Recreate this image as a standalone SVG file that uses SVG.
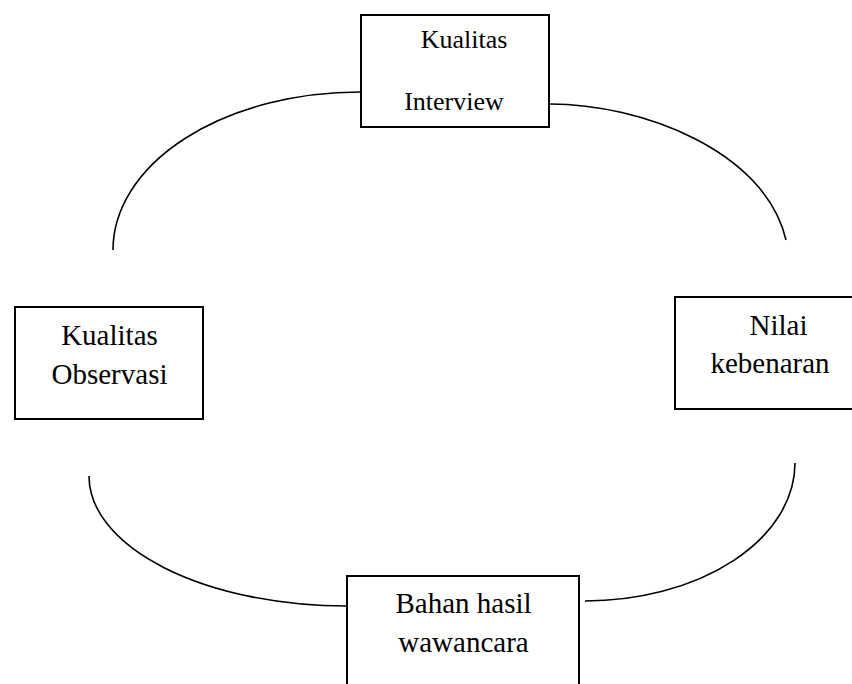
<svg xmlns="http://www.w3.org/2000/svg" width="852" height="684" viewBox="0 0 852 684">
<style>
.box{fill:#fff;stroke:#000;stroke-width:2}
.arc{fill:none;stroke:#000;stroke-width:1.6}
text{font-family:"Liberation Serif","Times New Roman",serif;fill:#000;text-anchor:middle}
.t26{font-size:26px}
.t29{font-size:29px}
</style>
<rect width="852" height="684" fill="#fff"/>
<g id="connectors">
<path class="arc" d="M113,250 A247,158 0 0 1 360,92"/>
<path class="arc" d="M550,104 C640,104 765,150 786,240"/>
<path class="arc" d="M89,476 A258,130 0 0 0 347,606"/>
<path class="arc" d="M585,601 A210,138 0 0 0 795,463"/>
</g>
<g id="node-interview">
<rect class="box" x="361" y="15" width="188" height="112"/>
<text class="t26" x="464" y="48">Kualitas</text>
<text class="t26" x="454" y="110">Interview</text>
</g>
<g id="node-observasi">
<rect class="box" x="15" y="307" width="188" height="112"/>
<text class="t29" x="109.5" y="345">Kualitas</text>
<text class="t29" x="109.5" y="384">Observasi</text>
</g>
<g id="node-kebenaran">
<rect class="box" x="675" y="297" width="185" height="112"/>
<text class="t29" x="778.5" y="335">Nilai</text>
<text class="t29" x="770" y="373">kebenaran</text>
</g>
<g id="node-bahan">
<rect class="box" x="347" y="576" width="232" height="120"/>
<text class="t29" x="463.5" y="613">Bahan hasil</text>
<text class="t29" x="463.5" y="652">wawancara</text>
</g>
</svg>
